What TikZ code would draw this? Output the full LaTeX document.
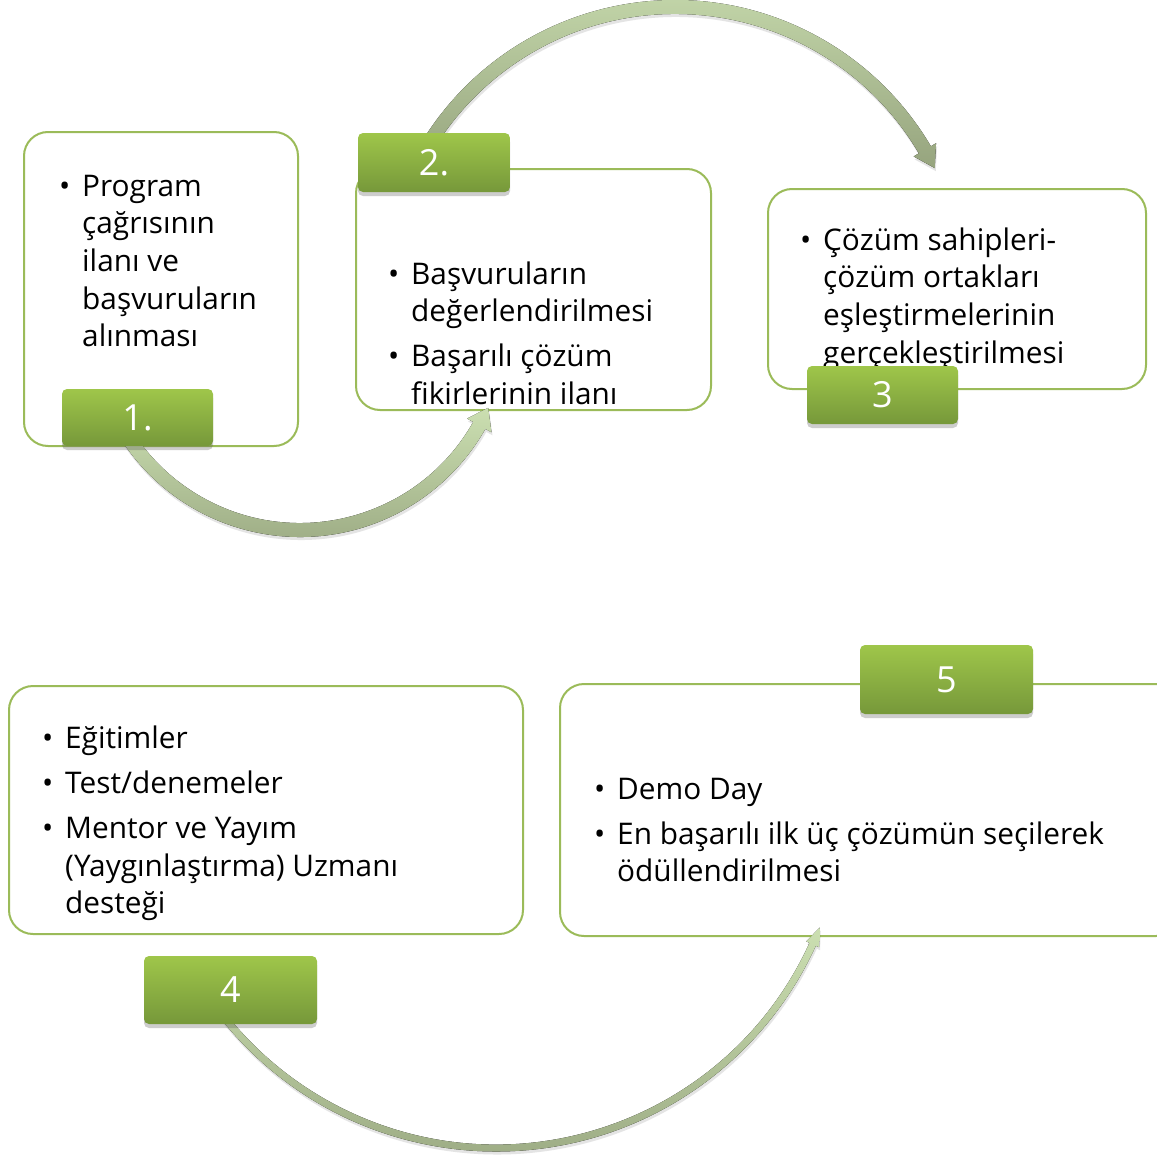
\documentclass[tikz,border=0pt]{standalone}
\usepackage{fontspec}
\setmainfont{Open Sans}
\usetikzlibrary{shadows}

\definecolor{boxline}{HTML}{9BBB59}
\definecolor{tabtop}{HTML}{9FC64A}
\definecolor{tabbot}{HTML}{76983A}
\definecolor{arrtop}{HTML}{CBDFB1}
\definecolor{arrbot}{HTML}{96A47E}

% one bulleted item with a hanging indent; lines are broken by hand
\newcommand\bulitem[1]{\par\hangindent=19pt\hangafter=1\noindent
  \makebox[19pt][l]{\hspace{-4pt}\textbullet}#1}
% a block of items whose reference point is the first baseline
\newcommand\bulblock[1]{\vtop{\hsize=560pt
  \fontsize{29.8}{37.7}\selectfont\parskip=7.5pt\parindent=0pt
  \let\\\newline #1}}

% curved block arrow around a centre:
% #1 centre, #2 radius, #3 tail angle, #4 head-base angle, #5 tip angle,
% #6 half shaft width, #7 half head width
\newcommand\bendarrow[7]{%
  \begin{scope}[shift={(#1)}]
    \fill[arrowfill]
      (#3:{#2+#6}) arc[start angle=#3, end angle=#4, radius={#2+#6}]
      -- (#4:{#2+#7}) -- (#5:#2) -- (#4:{#2-#7}) -- (#4:{#2-#6})
      arc[start angle=#4, end angle=#3, radius={#2-#6}] -- cycle;
  \end{scope}}

\tikzset{
  stagebox/.style={draw=boxline, line width=2pt, fill=white,
    rounded corners=24pt},
  stagetab/.style={rounded corners=5pt, top color=tabtop,
    bottom color=tabbot, draw=none,
    drop shadow={shadow xshift=0pt, shadow yshift=-4pt,
      opacity=0.28, fill=black!70}},
  tabnum/.style={text=white, font=\fontsize{36}{40}\selectfont,
    inner sep=0pt},
  arrowfill/.style={top color=arrtop, bottom color=arrbot,
    drop shadow={shadow xshift=1pt, shadow yshift=-3pt,
      opacity=0.15, fill=black!70}},
  itemtext/.style={anchor=base west, inner sep=0pt, text=black},
}

\begin{document}
\begin{tikzpicture}[x=1pt, y=1pt]
  \path[use as bounding box, clip] (0,0) rectangle (1157,-1156);
  \fill[white] (0,0) rectangle (1157,-1156);

  % stage frames
  \draw[stagebox] (24,-132) rectangle (298,-446);
  \draw[stagebox] (356,-169) rectangle (711,-410);
  \draw[stagebox] (768,-189) rectangle (1146,-389);
  \draw[stagebox] (9,-686) rectangle (523,-934);
  \draw[stagebox] (560,-684) rectangle (1180,-936);

  % curved arrows between the stages
  \coordinate (cA) at (300,-324);
  \coordinate (cB) at (675,-297);
  \coordinate (cC) at (496,-800);
  \bendarrow{cA}{206}{212}{330.5}{336}{7}{14}
  \bendarrow{cB}{290}{150}{30.5}{26.4}{7}{13}
  \bendarrow{cC}{348}{218}{335.5}{338.5}{3.5}{7}

  % stage texts
  \node[itemtext] (x1) at (63,-196) {\bulblock{%
    \bulitem{Program\\çağrısının\\ilanı ve\\başvuruların\\alınması}}};
  \node[itemtext] (x2) at (392,-284) {\bulblock{%
    \bulitem{Başvuruların\\değerlendirilmesi}
    \bulitem{Başarılı çözüm\\fikirlerinin ilanı}}};
  \begin{scope}
    \clip (770,-190) rectangle (1144,-367);
    \node[itemtext] (x3) at (804,-250) {\bulblock{%
      \bulitem{Çözüm sahipleri-\\çözüm ortakları\\eşleştirmelerinin\\gerçekleştirilmesi}}};
  \end{scope}
  \node[itemtext] (x4) at (46,-748) {\bulblock{%
    \bulitem{Eğitimler}
    \bulitem{Test/denemeler}
    \bulitem{Mentor ve Yayım\\(Yaygınlaştırma) Uzmanı\\desteği}}};
  \node[itemtext] (x5) at (598,-799) {\bulblock{%
    \bulitem{Demo Day}
    \bulitem{En başarılı ilk üç çözümün seçilerek\\ödüllendirilmesi}}};

  % numbered tabs
  \path[stagetab] (62,-389) rectangle (213,-446);
  \node[tabnum] (t1) at (137.5,-417.5) {1.};
  \path[stagetab] (358,-133) rectangle (510,-192);
  \node[tabnum] (t2) at (434,-162.5) {2.};
  \path[stagetab] (807,-366) rectangle (958,-424);
  \node[tabnum] (t3) at (882.5,-395) {3};
  \path[stagetab] (144,-956) rectangle (317,-1024);
  \node[tabnum] (t4) at (230.5,-990) {4};
  \path[stagetab] (860,-645) rectangle (1033,-714);
  \node[tabnum] (t5) at (946.5,-679.5) {5};
\end{tikzpicture}
\end{document}
